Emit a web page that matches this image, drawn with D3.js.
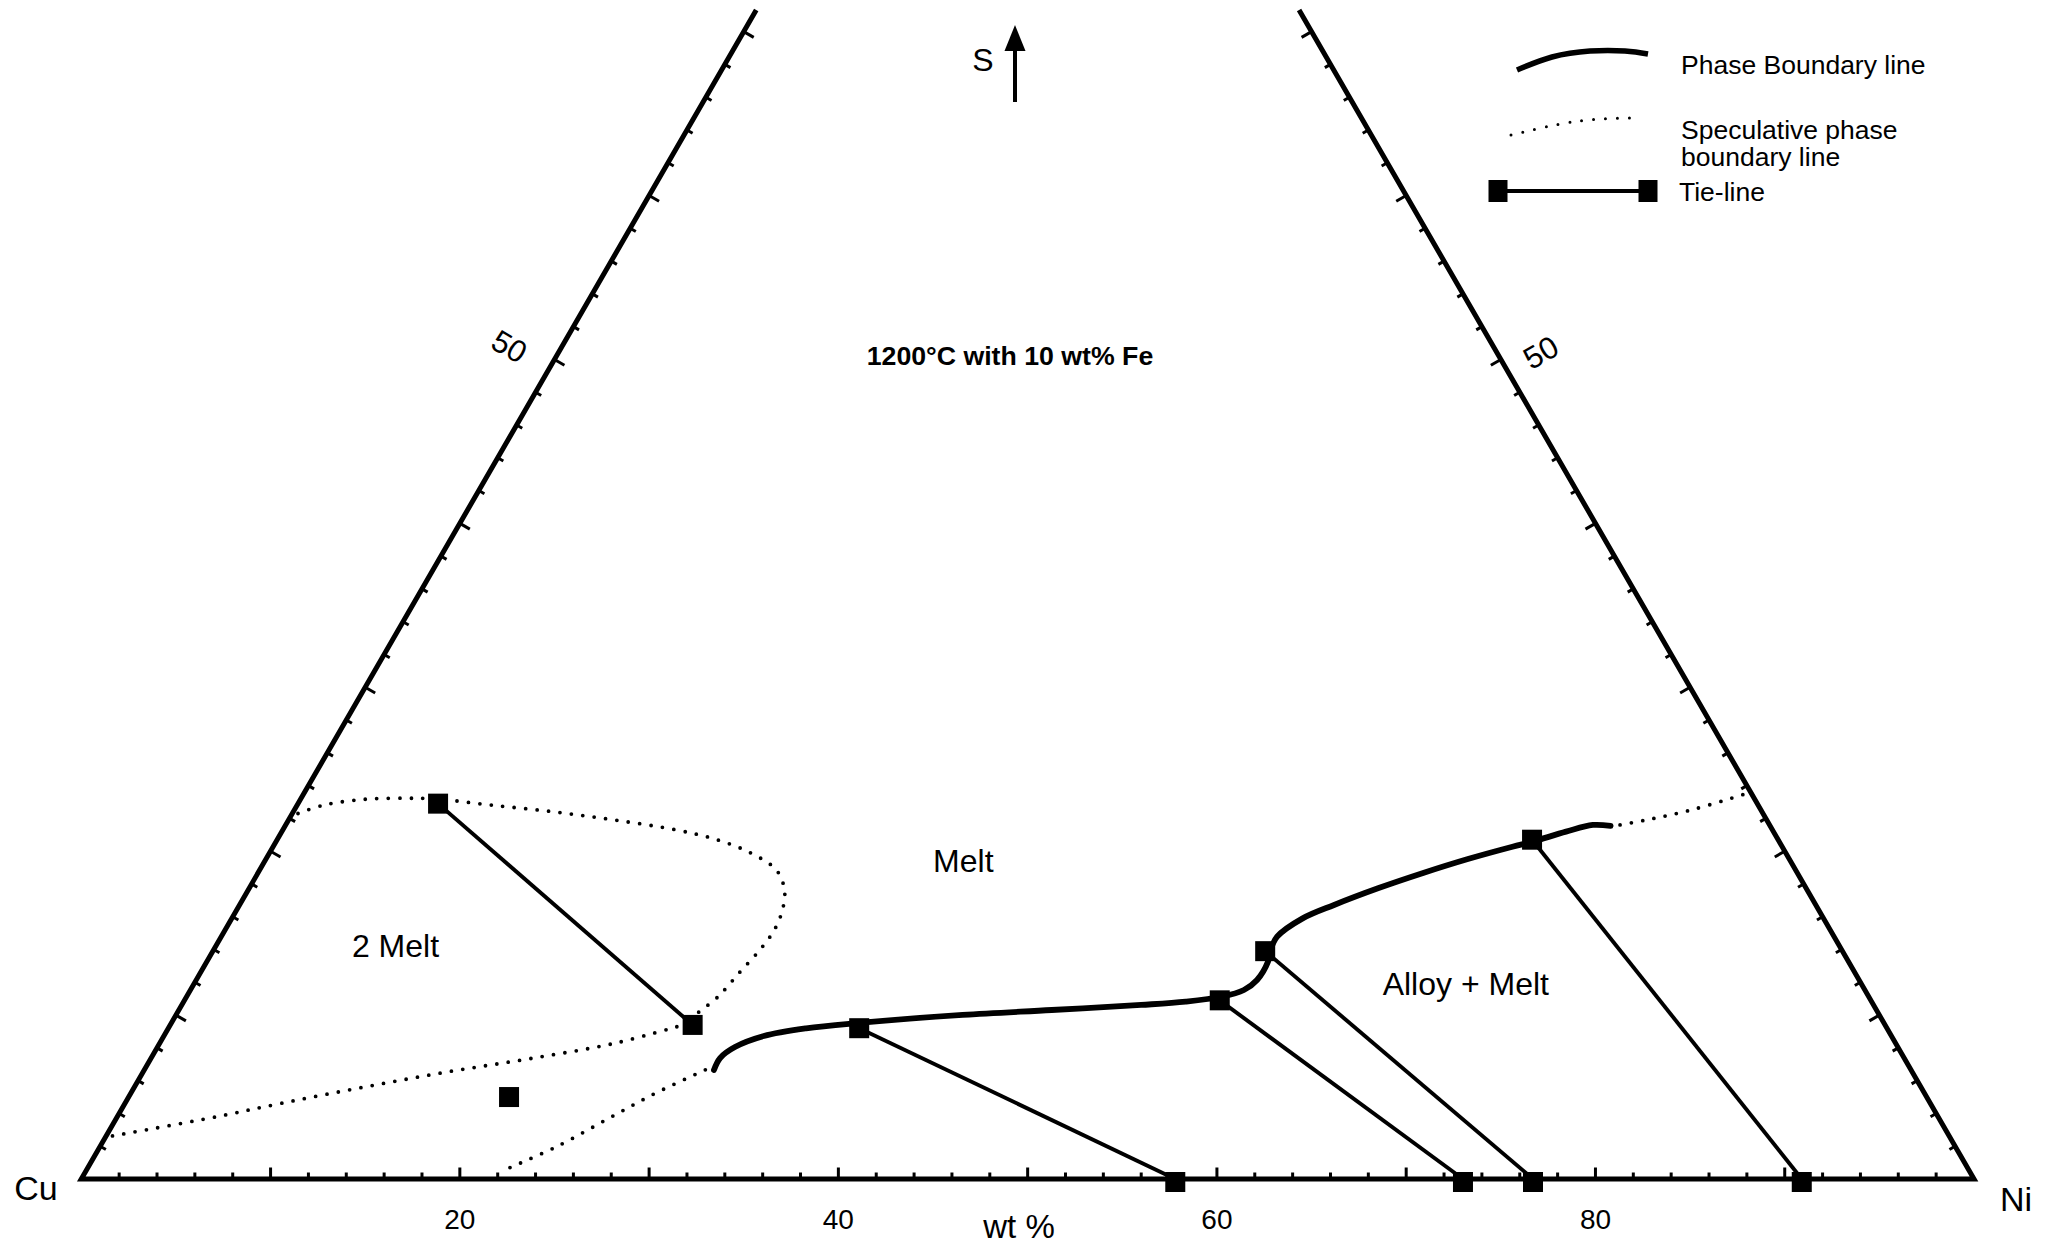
<!DOCTYPE html>
<html>
<head>
<meta charset="utf-8">
<script src="https://cdn.jsdelivr.net/npm/d3@7"></script>
<style>
  html, body { margin: 0; padding: 0; background: #fff; }
  svg { display: block; }
  text { font-family: "Liberation Sans", Arial, Helvetica, sans-serif; fill: #000; }
</style>
</head>
<body>
<svg id="chart" width="2056" height="1244"></svg>
<script>
// Cu–Ni–S isothermal section (1200 °C, 10 wt% Fe). Compositions are wt% given as [Ni, S].
const baseTickLabels = [20, 40, 60, 80];
const sideTickLabels = [50];

// Tie-lines: melt-side end and the conjugate end
const tieMeltEnds  = [[7.4, 22.9], [36.5, 9.2], [54.7, 10.9], [55.6, 13.9], [66.3, 20.7]];
const tieOtherEnds = [[27.6, 9.4], [57.8, 0],   [73.0, 0],    [76.7, 0],    [90.9, 0]];
const singlePoints = [[20.1, 5.0]];

// Measured phase boundary (melt / alloy + melt)
const phaseBoundary = [
  [30.10, 6.65], [30.06, 7.38], [30.51, 8.05], [31.70, 8.72], [33.70, 9.19],
  [36.33, 9.52], [41.56, 10.01], [46.12, 10.31], [50.68, 10.62], [52.94, 10.82],
  [54.68, 11.12], [55.66, 11.53], [56.05, 12.14], [56.07, 13.26], [55.85, 13.97],
  [55.79, 14.78], [56.58, 15.90], [57.83, 16.72], [59.67, 17.75], [61.56, 18.67],
  [63.50, 19.52], [65.48, 20.27], [66.39, 20.58], [67.85, 21.19], [69.06, 21.60],
  [70.03, 21.54]
];

// Speculative boundaries
const specTwoMeltUpper = [
  [0.3, 22.3], [1.43, 22.82], [3.45, 23.17], [5.61, 23.23], [7.20, 23.18],
  [10.18, 22.82], [13.69, 22.41], [17.23, 21.90], [20.82, 21.29], [23.30, 20.68],
  [25.47, 19.87], [27.30, 18.85], [28.34, 17.63], [28.84, 16.41], [29.02, 15.19],
  [28.86, 13.97], [28.47, 12.57], [28.08, 11.12], [27.50, 10.13]
];
const specTwoMeltLower = [
  [26.82, 9.29], [24.04, 8.28], [20.12, 7.36], [16.15, 6.55], [12.22, 5.63],
  [8.34, 4.64], [4.86, 3.70], [0.2, 2.6]
];
const specToBase = [[22.3, 0.7], [24.12, 1.97], [26.23, 3.90], [27.74, 5.25], [29.90, 6.85]];
const specToNiS = [[70.50, 21.60], [71.96, 21.96], [73.79, 22.51], [76.03, 23.43], [76.4, 23.6]];

const regionLabels = [
  { text: "Melt", ni: 36.9, s: 19.4 },
  { text: "2 Melt", ni: 9.5, s: 14.2 },
  { text: "Alloy + Melt", ni: 67.2, s: 11.9 }
];

// ---- ternary projection ----
const x0 = 81.3, x1 = 1974, yBase = 1179;
const W = x1 - x0, H = W * Math.sqrt(3) / 2;
const along = d3.scaleLinear().domain([0, 100]).range([x0, x1]);
const up = d3.scaleLinear().domain([0, 100]).range([yBase, yBase - H]);
const proj = ([ni, s]) => [along(ni + s / 2), up(s)];
const sTop = up.invert(10);   // sides are cut off near the top edge

const svg = d3.select("#chart");

const line = d3.line()
  .x(d => proj(d)[0]).y(d => proj(d)[1]);
const smooth = d3.line()
  .x(d => proj(d)[0]).y(d => proj(d)[1])
  .curve(d3.curveCatmullRom.alpha(0.5));

// Triangle frame (open at the top)
svg.append("path")
  .attr("d", line([[0, sTop], [0, 0], [100, 0], [100 - sTop, sTop]]))
  .attr("fill", "none").attr("stroke", "#000")
  .attr("stroke-width", 5).attr("stroke-linejoin", "miter");

// Ticks every 2 wt%, longer every 10 wt%
const ticks = svg.append("g").attr("stroke", "#000").attr("stroke-width", 3);
const tlen = v => (v % 10 === 0 ? 11.5 : 6.5);
d3.range(2, 100, 2).forEach(v => {
  const [px, py] = proj([v, 0]);
  ticks.append("line").attr("x1", px).attr("y1", py).attr("x2", px).attr("y2", py - tlen(v));
});
const c30 = Math.cos(Math.PI / 6), s30 = 0.5;
d3.range(2, sTop, 2).forEach(v => {
  const [lx, ly] = proj([0, v]);
  ticks.append("line").attr("x1", lx).attr("y1", ly)
    .attr("x2", lx + c30 * tlen(v)).attr("y2", ly + s30 * tlen(v));
  const [rx, ry] = proj([100 - v, v]);
  ticks.append("line").attr("x1", rx).attr("y1", ry)
    .attr("x2", rx - c30 * tlen(v)).attr("y2", ry + s30 * tlen(v));
});

// Base tick labels
svg.append("g").selectAll("text").data(baseTickLabels).join("text")
  .attr("x", d => proj([d, 0])[0]).attr("y", yBase + 40)
  .attr("text-anchor", "middle").attr("dy", "0.35em")
  .attr("font-size", 28).text(d => d);

// Side tick labels
sideTickLabels.forEach(v => {
  const [lx, ly] = proj([0, v]);
  svg.append("text")
    .attr("transform", `translate(${lx - 45},${ly - 13}) rotate(30)`)
    .attr("text-anchor", "middle").attr("dy", "0.35em")
    .attr("font-size", 31).text(v);
  const [rx, ry] = proj([100 - v, v]);
  svg.append("text")
    .attr("transform", `translate(${rx + 40},${ry - 7}) rotate(-30)`)
    .attr("text-anchor", "middle").attr("dy", "0.35em")
    .attr("font-size", 31).text(v);
});

// Axis / vertex labels
svg.append("text").attr("x", 1019).attr("y", 1226).attr("dy", "0.35em")
  .attr("text-anchor", "middle").attr("font-size", 33).text("wt %");
svg.append("text").attr("x", 36).attr("y", 1188).attr("dy", "0.35em")
  .attr("text-anchor", "middle").attr("font-size", 34).text("Cu");
svg.append("text").attr("x", 2016).attr("y", 1199).attr("dy", "0.35em")
  .attr("text-anchor", "middle").attr("font-size", 34).text("Ni");

// S direction arrow
svg.append("text").attr("x", 983).attr("y", 60).attr("dy", "0.35em")
  .attr("text-anchor", "middle").attr("font-size", 32).text("S");
svg.append("line").attr("x1", 1015).attr("y1", 102).attr("x2", 1015).attr("y2", 45)
  .attr("stroke", "#000").attr("stroke-width", 4);
svg.append("path").attr("d", "M1015,25 L1004.5,51 L1025.5,51 Z").attr("fill", "#000");

// Title
svg.append("text").attr("x", 1010).attr("y", 356).attr("dy", "0.35em")
  .attr("text-anchor", "middle").attr("font-size", 26.7).attr("font-weight", "bold")
  .text("1200°C with 10 wt% Fe");

// Speculative (dotted) boundaries
const dotted = (sel) => sel.attr("fill", "none").attr("stroke", "#000")
  .attr("stroke-width", 3.8).attr("stroke-linecap", "round")
  .attr("stroke-dasharray", "0 11.5");
[specTwoMeltUpper, specTwoMeltLower, specToBase, specToNiS].forEach(pts => {
  svg.append("path").attr("d", smooth(pts)).call(dotted);
});

// Measured phase boundary
svg.append("path").attr("d", smooth(phaseBoundary))
  .attr("fill", "none").attr("stroke", "#000")
  .attr("stroke-width", 5.8).attr("stroke-linecap", "round");

// Tie-lines
const ties = tieMeltEnds.map((a, i) => [a, tieOtherEnds[i]]);
svg.append("g").selectAll("path").data(ties).join("path")
  .attr("d", d => line(d))
  .attr("stroke", "#000").attr("stroke-width", 3.9).attr("fill", "none");

// Analysed compositions
const marker = 20;
const allPoints = tieMeltEnds.concat(tieOtherEnds, singlePoints);
svg.append("g").selectAll("rect").data(allPoints).join("rect")
  .attr("x", d => proj(d)[0] - marker / 2)
  .attr("y", d => proj(d)[1] - marker / 2 + (d[1] === 0 ? 3 : 0))
  .attr("width", marker).attr("height", marker).attr("fill", "#000");

// Region labels
svg.append("g").selectAll("text").data(regionLabels).join("text")
  .attr("x", d => proj([d.ni, d.s])[0]).attr("y", d => proj([d.ni, d.s])[1])
  .attr("dy", "0.35em").attr("text-anchor", "middle")
  .attr("font-size", 32).text(d => d.text);

// Legend
const lg = svg.append("g");
const lgCurve = d3.line().curve(d3.curveNatural);
lg.append("path").attr("d", lgCurve([[1517, 70], [1552, 57], [1590, 51], [1625, 51], [1648, 54]]))
  .attr("fill", "none").attr("stroke", "#000").attr("stroke-width", 5.5);
lg.append("text").attr("x", 1681).attr("y", 65).attr("dy", "0.35em")
  .attr("font-size", 26.5).text("Phase Boundary line");
lg.append("path").attr("d", lgCurve([[1511, 135], [1560, 124], [1600, 119], [1638, 118]]))
  .call(dotted).attr("stroke-width", 3).attr("stroke-dasharray", "0 12");
lg.append("text").attr("x", 1681).attr("y", 130).attr("dy", "0.35em")
  .attr("font-size", 26.5).text("Speculative phase");
lg.append("text").attr("x", 1681).attr("y", 157).attr("dy", "0.35em")
  .attr("font-size", 26.5).text("boundary line");
lg.append("line").attr("x1", 1498).attr("y1", 191).attr("x2", 1648).attr("y2", 191)
  .attr("stroke", "#000").attr("stroke-width", 4);
[1498, 1648].forEach(cx => {
  lg.append("rect").attr("x", cx - 9.5).attr("y", 180).attr("width", 19).attr("height", 22)
    .attr("fill", "#000");
});
lg.append("text").attr("x", 1679).attr("y", 192).attr("dy", "0.35em")
  .attr("font-size", 26.5).text("Tie-line");
</script>
</body>
</html>
